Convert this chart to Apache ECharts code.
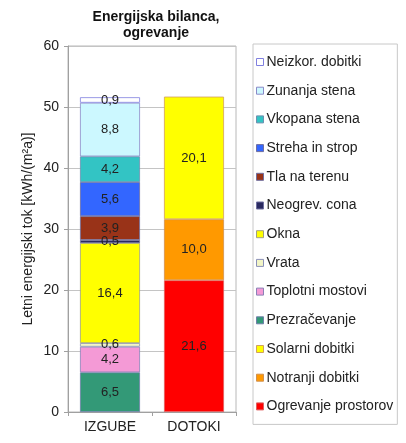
<!DOCTYPE html>
<html>
<head>
<meta charset="utf-8">
<script src="https://cdn.jsdelivr.net/npm/echarts@6/dist/echarts.min.js"></script>
<style>html,body{margin:0;padding:0;background:#fff}#c{width:406px;height:443px}</style>
</head>
<body>
<div id="c"></div>
<script>
var categories = ['IZGUBE', 'DOTOKI'];
// stacking order bottom -> top
var lossNames = ['Prezračevanje', 'Toplotni mostovi', 'Vrata', 'Okna', 'Neogrev. cona', 'Tla na terenu', 'Streha in strop', 'Vkopana stena', 'Zunanja stena', 'Neizkor. dobitki'];
var lossValues = [6.5, 4.2, 0.6, 16.4, 0.5, 3.9, 5.6, 4.2, 8.8, 0.9];
var lossColors = ['#339977', '#f49ad6', '#f2f5c6', '#ffff00', '#2a2a60', '#993318', '#3366ff', '#33c4c4', '#ccf8ff', '#ffffff'];
var lossBorders = ['#6f7fa8', '#8a82b8', '#8a90b8', '#a0a080', '#6f6fa0', '#6f6fa0', '#6f6fa0', '#6f8fb0', '#8a8ac8', '#8080e0'];
var gainNames = ['Ogrevanje prostorov', 'Notranji dobitki', 'Solarni dobitki'];
var gainValues = [21.6, 10.0, 20.1];
var gainColors = ['#ff0000', '#ff9900', '#ffff00'];
var gainBorders = ['#e06060', '#d09050', '#d0a060'];
var legendOrder = ['Neizkor. dobitki', 'Zunanja stena', 'Vkopana stena', 'Streha in strop', 'Tla na terenu', 'Neogrev. cona', 'Okna', 'Vrata', 'Toplotni mostovi', 'Prezračevanje', 'Solarni dobitki', 'Notranji dobitki', 'Ogrevanje prostorov'];
var yTicks = [0, 10, 20, 30, 40, 50, 60];

var FONT = '"Liberation Sans", Arial, sans-serif';
function fmt(p) {
  if (p.value === '-' || p.value == null) return '';
  return Number(p.value).toFixed(1).replace('.', ',');
}
var series = [];
function addSeries(name, val, idx, color, border) {
  var data = idx === 0 ? [val, '-'] : ['-', val];
  series.push({
    name: name, type: 'bar', stack: 'total', data: data,
    barWidth: 60,
    itemStyle: { color: color, borderColor: border, borderWidth: 0.8 },
    label: { show: true, position: 'inside', formatter: fmt, color: '#222', fontSize: 13, fontFamily: FONT },
    emphasis: { disabled: true }
  });
}
gainNames.forEach(function (n, i) { addSeries(n, gainValues[i], 1, gainColors[i], gainBorders[i]); });
lossNames.forEach(function (n, i) { addSeries(n, lossValues[i], 0, lossColors[i], lossBorders[i]); });

var chart = echarts.init(document.getElementById('c'), null, { renderer: 'canvas' });
chart.setOption({
  animation: false,
  backgroundColor: '#fff',
  textStyle: { fontFamily: FONT },
  title: {
    text: 'Energijska bilanca,\nogrevanje',
    left: 151, top: 4, textAlign: 'center',
    textStyle: { fontSize: 14, fontWeight: 'bold', color: '#111', lineHeight: 16, fontFamily: FONT }
  },
  grid: { left: 68, right: 170, top: 46, bottom: 31, show: true, borderColor: '#b8b8b8', borderWidth: 1 },
  xAxis: {
    type: 'category', data: categories,
    axisLine: { lineStyle: { color: '#a0a0a0' } },
    axisTick: { show: true, length: 4, lineStyle: { color: '#a0a0a0' } },
    axisLabel: { color: '#222', fontSize: 14, margin: 8, fontFamily: FONT }
  },
  yAxis: {
    type: 'value', min: yTicks[0], max: yTicks[yTicks.length - 1], interval: 10,
    name: 'Letni energijski tok [kWh/(m²a)]', nameLocation: 'middle', nameGap: 33,
    nameTextStyle: { color: '#222', fontSize: 14, fontFamily: FONT },
    axisLine: { show: true, lineStyle: { color: '#a0a0a0' } },
    axisTick: { show: true, length: 4, lineStyle: { color: '#a0a0a0' } },
    axisLabel: { color: '#222', fontSize: 14, margin: 9, fontFamily: FONT },
    splitLine: { lineStyle: { color: '#c4c4c4' } }
  },
  legend: {
    orient: 'vertical', left: 253, top: 44, width: 149, height: 376,
    data: legendOrder,
    backgroundColor: '#fff', borderColor: '#c8c8c8', borderWidth: 1,
    padding: [10, 4, 10, 3],
    itemWidth: 7, itemHeight: 7, itemGap: 12.7,
    icon: 'rect',
    selectedMode: false,
    itemStyle: { borderWidth: 1 },
    textStyle: { color: '#222', fontSize: 14, lineHeight: 16, padding: [0, 0, 0, -2], fontFamily: FONT }
  },
  series: series
});
</script>
</body>
</html>
